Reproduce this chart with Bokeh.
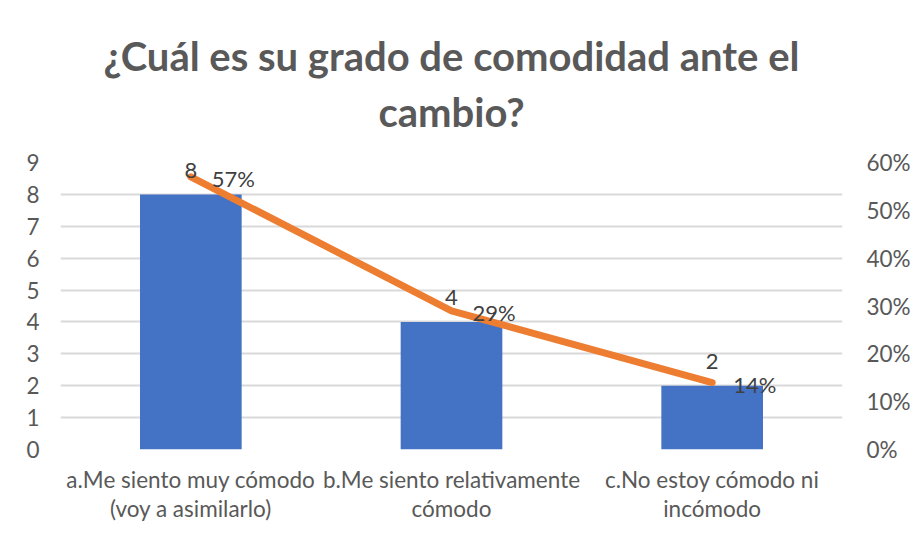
from bokeh.plotting import figure
from bokeh.models import ColumnDataSource, LinearAxis, Range1d, FixedTicker, NumeralTickFormatter, Title
from bokeh.core.properties import value
from bokeh.embed import file_html
from bokeh.resources import INLINE

categories = ["a.Me siento muy cómodo\n(voy a asimilarlo)",
              "b.Me siento relativamente\ncómodo",
              "c.No estoy cómodo ni\nincómodo"]
counts = [8, 4, 2]
percents = [0.57, 0.29, 0.14]
count_labels = ["8", "4", "2"]
percent_labels = ["57%", "29%", "14%"]
left_ticks = [0, 1, 2, 3, 4, 5, 6, 7, 8, 9]
right_ticks = [0, 0.1, 0.2, 0.3, 0.4, 0.5, 0.6]
title_lines = ["¿Cuál es su grado de comodidad ante el", "cambio?"]

FONT = "Lato"
GREY = "#595959"

src = ColumnDataSource(dict(cat=categories, count=counts, pct=percents,
                            clab=count_labels, plab=percent_labels))

p = figure(x_range=categories, y_range=Range1d(0, 9), width=913, height=530,
           output_backend="svg", toolbar_location=None,
           min_border_left=60, min_border_right=67, min_border_bottom=81, min_border_top=40)
p.extra_y_ranges = {"pct": Range1d(0, 0.6)}

# stacked from the plot outward
p.add_layout(Title(text=" ", align="center", text_font=FONT, text_font_size="16px",
                   standoff=0), "above")
p.add_layout(Title(text=title_lines[1], align="center", text_font=FONT, text_font_size="40px",
                   text_font_style="bold", text_color=GREY, standoff=12), "above")
p.add_layout(Title(text=title_lines[0], align="center", text_font=FONT, text_font_size="40px",
                   text_font_style="bold", text_color=GREY, standoff=0), "above")
p.add_layout(Title(text=" ", align="center", text_font=FONT, text_font_size="22px",
                   standoff=0), "above")

p.vbar(x="cat", top="count", width=0.39, source=src, fill_color="#4472C4", line_color=None)
p.line(x="cat", y="pct", source=src, y_range_name="pct", line_color="#ED7D31",
       line_width=7, line_cap="round", line_join="round")

p.text(x="cat", y="count", text="clab", source=src, text_align="center",
       text_baseline="middle", y_offset=-24, text_font=value(FONT),
       text_font_size="22px", text_color="#404040")
p.text(x="cat", y="pct", text="plab", source=src, y_range_name="pct", text_align="left",
       text_baseline="middle", x_offset=21, y_offset=2, text_font=value(FONT),
       text_font_size="22px", text_color="#404040")

# axes
p.yaxis.ticker = FixedTicker(ticks=left_ticks)
right = LinearAxis(y_range_name="pct", ticker=FixedTicker(ticks=right_ticks),
                   formatter=NumeralTickFormatter(format="0%"))
p.add_layout(right, "right")

for ax in [p.yaxis[0], right, p.xaxis[0]]:
    ax.axis_line_color = None
    ax.major_tick_line_color = None
    ax.minor_tick_line_color = None
    ax.major_label_text_font = FONT
    ax.major_label_text_font_size = "22.5px"
    ax.major_label_text_color = GREY
p.yaxis[0].major_label_standoff = 15
right.major_label_standoff = 18
p.xaxis.major_label_standoff = 10
p.xaxis.major_label_text_line_height = 1.1

p.xgrid.grid_line_color = None
p.ygrid.grid_line_color = "#d9d9d9"
p.ygrid.grid_line_width = 2
p.outline_line_color = None
p.x_range.range_padding = 0

open("out.html", "w").write(file_html(p, INLINE))
